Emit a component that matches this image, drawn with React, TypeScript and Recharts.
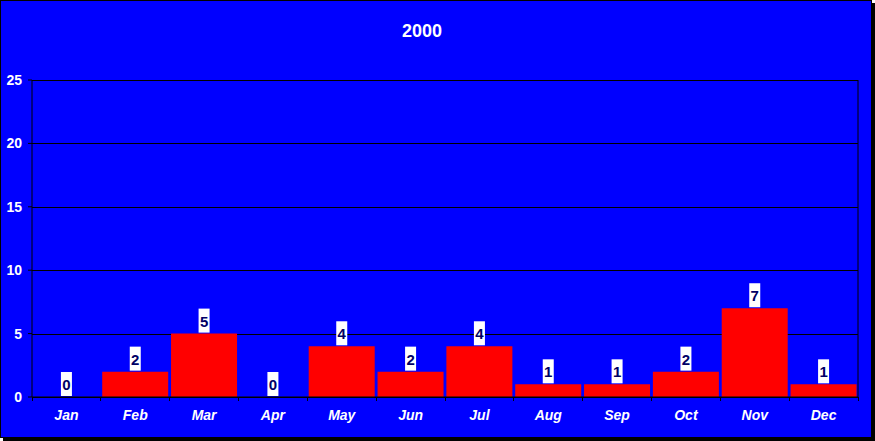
import { ComposedChart, Bar, Line, XAxis, YAxis, CartesianGrid, LabelList } from "recharts";

const months = ["Jan", "Feb", "Mar", "Apr", "May", "Jun", "Jul", "Aug", "Sep", "Oct", "Nov", "Dec"];
const counts = [0, 2, 5, 0, 4, 2, 4, 1, 1, 2, 7, 1];
const yTicks = [0, 5, 10, 15, 20, 25];
const title = "2000";

const W = 872;
const H = 438;
const FONT = '"Liberation Sans", Arial, sans-serif';
// plot spans x 32..858, so one category band is this wide
const BAND = (W - 32 - 14) / months.length;

const data = months.map((m, i) => ({ month: m, count: counts[i] }));

// month label plus a tick mark on the band boundary (Excel style)
function MonthTick(props: any) {
  const { x, y, payload, index } = props;
  const axisY = y - 13;
  const left = x - BAND / 2;
  return (
    <g shapeRendering="crispEdges">
      <line x1={left} x2={left} y1={axisY} y2={axisY + 4} stroke="#000" />
      {index === months.length - 1 && (
        <line x1={x + BAND / 2} x2={x + BAND / 2} y1={axisY} y2={axisY + 4} stroke="#000" />
      )}
      <text
        x={x}
        y={y}
        dy="0.71em"
        textAnchor="middle"
        fill="#fff"
        fontFamily={FONT}
        fontSize={14}
        fontWeight="bold"
        fontStyle="italic"
      >
        {payload.value}
      </text>
    </g>
  );
}

// snap grid lines to whole pixels so they stay solid black
function GridLine(props: any) {
  const { x1, x2, y1 } = props;
  const y = Math.round(y1) + 0.5;
  return <line x1={x1} x2={x2} y1={y} y2={y} stroke="#000" strokeWidth={1} />;
}

// white box with the value, sitting on top of the bar (also for zero bars)
function ValueBox(props: any) {
  const { x, y, value } = props;
  return (
    <g>
      <rect x={x - 5.5} y={y - 25} width={11} height={24} fill="#fff" />
      <text
        x={x}
        y={y - 7}
        textAnchor="middle"
        fill="#000066"
        fontFamily={FONT}
        fontSize={15}
        fontWeight="bold"
      >
        {value}
      </text>
    </g>
  );
}

export default function App() {
  return (
    <div style={{ position: "absolute", left: 0, top: 0, width: 875, height: 441 }}>
      <div style={{ position: "absolute", left: 3, top: 3, width: W, height: H, background: "#000" }} />
      <div
        style={{
          position: "absolute",
          left: 0,
          top: 0,
          width: W,
          height: H,
          background: "#0000ff",
          border: "1px solid #000",
          boxSizing: "border-box",
        }}
      />
      <div style={{ position: "absolute", left: 0, top: 0 }}>
        <ComposedChart
          width={W}
          height={H}
          data={data}
          margin={{ top: 80, right: 0, bottom: 0, left: 0 }}
          barCategoryGap="2%"
        >
          <CartesianGrid vertical={false} horizontal={(p: any) => <GridLine {...p} />} />
          <XAxis
            dataKey="month"
            height={41}
            interval={0}
            axisLine={{ stroke: "#000" }}
            tickLine={false}
            tickSize={4}
            tickMargin={9}
            tick={<MonthTick />}
          />
          <YAxis
            domain={[0, 25]}
            ticks={yTicks}
            width={32}
            axisLine={{ stroke: "#000" }}
            tickLine={{ stroke: "#000" }}
            tickSize={4}
            tickMargin={6}
            tick={{ fill: "#fff", fontFamily: FONT, fontSize: 14, fontWeight: "bold" }}
          />
          <YAxis
            yAxisId="r"
            orientation="right"
            domain={[0, 25]}
            width={14}
            tick={false}
            tickLine={false}
            axisLine={{ stroke: "#000" }}
          />
          <Bar dataKey="count" fill="#ff0000" isAnimationActive={false} />
          <Line
            dataKey="count"
            stroke="none"
            dot={false}
            activeDot={false}
            isAnimationActive={false}
            legendType="none"
          >
            <LabelList dataKey="count" content={<ValueBox />} />
          </Line>
        </ComposedChart>
      </div>
      <div
        style={{
          position: "absolute",
          left: 372,
          top: 22,
          width: 100,
          textAlign: "center",
          color: "#fff",
          fontFamily: FONT,
          fontSize: 18,
          lineHeight: "18px",
          fontWeight: "bold",
        }}
      >
        {title}
      </div>
    </div>
  );
}
